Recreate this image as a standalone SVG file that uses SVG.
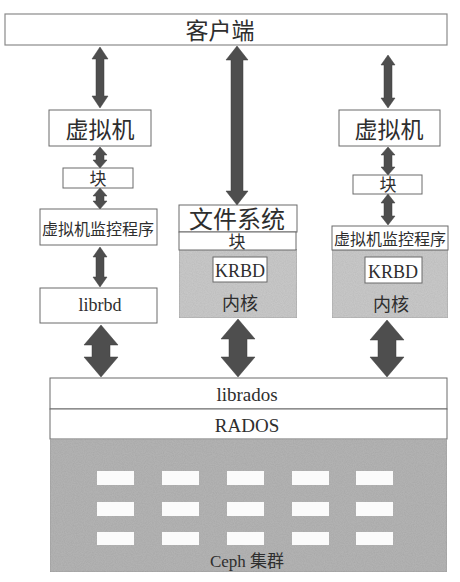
<svg xmlns="http://www.w3.org/2000/svg" width="460" height="582" viewBox="0 0 460 582">
<defs>
<style>
.box{fill:#ffffff;stroke:#6a6a6a;stroke-width:1}
.cli{fill:#ffffff;stroke:#8a8a8a;stroke-width:1.2}
.grey{fill:#cbcbcb;stroke:#a5a5a5;stroke-width:0.8}
.cluster{fill:#b6b6b6;stroke:#a0a0a0;stroke-width:0.8}
.disk{fill:#fbfbfb;stroke:none}
.arr{fill:#4e4e4e;stroke:#3e3e3e;stroke-width:0.5}
.cjk{font-family:"Liberation Serif","Noto Sans CJK SC",serif;fill:#2e2e2e;text-anchor:middle}
.lat{font-family:"Liberation Serif",serif;fill:#2e2e2e;text-anchor:middle}
</style>
<filter id="grain" x="0" y="0" width="100%" height="100%">
<feTurbulence type="fractalNoise" baseFrequency="0.9" numOctaves="2" seed="3" result="n"/>
<feColorMatrix in="n" type="matrix" values="0 0 0 0 0  0 0 0 0 0  0 0 0 0 0  0 0 0 0.16 0" result="d"/>
<feComposite in="d" in2="SourceGraphic" operator="in" result="dm"/>
<feMerge><feMergeNode in="SourceGraphic"/><feMergeNode in="dm"/></feMerge>
</filter>
</defs>
<rect width="460" height="582" fill="#ffffff"/>

<g id="client">
<rect class="cli" x="5" y="14" width="442" height="31"/>
<text class="cjk" x="220" y="39" font-size="23">客户端</text>
</g>

<g id="vm-left">
<rect class="box" x="49" y="110" width="102" height="36"/>
<text class="cjk" x="100" y="138" font-size="23">虚拟机</text>
</g>
<g id="block-left">
<rect class="box" x="63" y="168" width="70" height="20"/>
<text class="cjk" x="98" y="185" font-size="17">块</text>
</g>
<g id="hypervisor-left">
<rect class="box" x="40" y="209" width="117" height="36"/>
<text class="cjk" x="98" y="235" font-size="16" textLength="112" lengthAdjust="spacingAndGlyphs">虚拟机监控程序</text>
</g>
<g id="librbd">
<rect class="box" x="40" y="288" width="117" height="35"/>
<text class="lat" x="100" y="311" font-size="18">librbd</text>
</g>

<g id="kernel-middle">
<rect class="grey" x="179" y="249" width="118" height="69" filter="url(#grain)"/>
<rect class="box" x="213" y="257" width="54" height="25" stroke="none"/>
<text class="lat" x="240" y="277" font-size="18">KRBD</text>
<text class="cjk" x="240" y="310" font-size="18">内核</text>
</g>
<g id="filesystem">
<rect class="box" x="179" y="205" width="118" height="27" stroke="none"/>
<text class="cjk" x="237" y="228" font-size="24">文件系统</text>
</g>
<g id="block-middle">
<rect class="box" x="179" y="232" width="117" height="18"/>
<text class="cjk" x="237" y="248" font-size="17">块</text>
</g>

<g id="vm-right">
<rect class="box" x="339" y="110" width="101" height="36"/>
<text class="cjk" x="389" y="138" font-size="23">虚拟机</text>
</g>
<g id="block-right">
<rect class="box" x="353" y="175" width="69" height="19"/>
<text class="cjk" x="388" y="191" font-size="17">块</text>
</g>
<g id="kernel-right">
<rect class="grey" x="332" y="250" width="116" height="68" filter="url(#grain)"/>
<rect class="box" x="365" y="257" width="57" height="26" stroke="none"/>
<text class="lat" x="393" y="278" font-size="18">KRBD</text>
<text class="cjk" x="391" y="311" font-size="18">内核</text>
</g>
<g id="hypervisor-right">
<rect class="box" x="332" y="226" width="116" height="24"/>
<text class="cjk" x="390" y="245" font-size="16" textLength="112" lengthAdjust="spacingAndGlyphs">虚拟机监控程序</text>
</g>

<g id="librados">
<rect class="box" x="50" y="378" width="397" height="31"/>
<text class="lat" x="247" y="401" font-size="19">librados</text>
</g>
<g id="rados">
<rect class="box" x="50" y="409" width="397" height="30"/>
<text class="lat" x="247" y="432" font-size="19">RADOS</text>
</g>
<g id="ceph-cluster">
<rect class="cluster" x="50" y="439" width="397" height="133" filter="url(#grain)"/>
<rect class="disk" x="97" y="471" width="37" height="14"/>
<rect class="disk" x="162" y="471" width="37" height="14"/>
<rect class="disk" x="227" y="471" width="37" height="14"/>
<rect class="disk" x="292" y="471" width="37" height="14"/>
<rect class="disk" x="356" y="471" width="37" height="14"/>
<rect class="disk" x="97" y="502" width="37" height="14"/>
<rect class="disk" x="162" y="502" width="37" height="14"/>
<rect class="disk" x="227" y="502" width="37" height="14"/>
<rect class="disk" x="292" y="502" width="37" height="14"/>
<rect class="disk" x="356" y="502" width="37" height="14"/>
<rect class="disk" x="97" y="532" width="37" height="13"/>
<rect class="disk" x="162" y="532" width="37" height="13"/>
<rect class="disk" x="227" y="532" width="37" height="13"/>
<rect class="disk" x="292" y="532" width="37" height="13"/>
<rect class="disk" x="356" y="532" width="37" height="13"/>
<text class="cjk" x="247" y="567" font-size="17">Ceph 集群</text>
</g>

<g id="connectors">
<!-- left column -->
<polygon class="arr" points="100,47 108,59 104,59 104,96 108,96 100,108 92,96 96,96 96,59 92,59"/>
<polygon class="arr" points="100,147 107,155 104,155 104,160 107,160 100,168 93,160 96,160 96,155 93,155"/>
<polygon class="arr" points="100,188 107,196 104,196 104,201 107,201 100,209 93,201 96,201 96,196 93,196"/>
<polygon class="arr" points="100,247 107,257 104,257 104,277 107,277 100,287 93,277 96,277 96,257 93,257"/>
<polygon class="arr" points="101,325 118,345 110,345 110,357 118,357 101,377 84,357 92,357 92,345 84,345"/>
<!-- middle column -->
<polygon class="arr" points="237,46 248,60 243,60 243,191 248,191 237,205 226,191 231,191 231,60 226,60"/>
<polygon class="arr" points="238,319 255,339 247,339 247,357 255,357 238,377 221,357 229,357 229,339 221,339"/>
<!-- right column -->
<polygon class="arr" points="388,55 395,65 392,65 392,98 395,98 388,108 381,98 384,98 384,65 381,65"/>
<polygon class="arr" points="388,147 395,155 392,155 392,167 395,167 388,175 381,167 384,167 384,155 381,155"/>
<polygon class="arr" points="388,194 395,203 392,203 392,216 395,216 388,225 381,216 384,216 384,203 381,203"/>
<polygon class="arr" points="387,320 404,340 396,340 396,357 404,357 387,377 370,357 378,357 378,340 370,340"/>
</g>
</svg>
